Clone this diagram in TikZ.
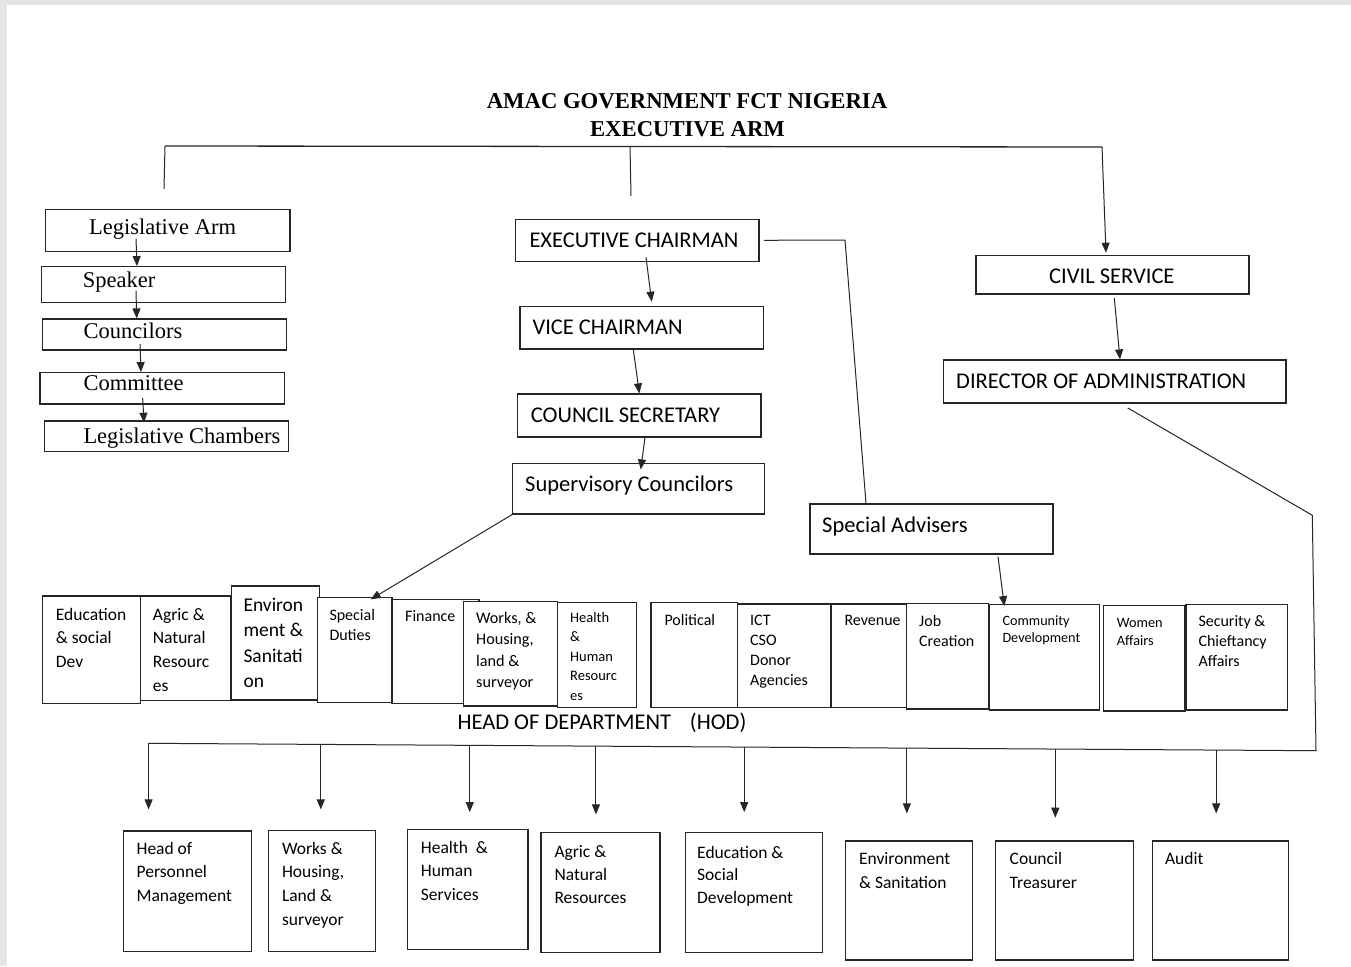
\documentclass[tikz,border=0pt]{standalone}
\usepackage{fontspec}
\setmainfont{Liberation Serif}
\newfontfamily\carl{Carlito}
\usetikzlibrary{arrows.meta,calc,fit}
\newcommand\fsz[2]{\fontsize{#1pt}{#2pt}\selectfont}
\newcommand\lbl[5]{\node[inner sep=0pt, anchor=base west] (#1) at (#2,#3) {\parbox[t]{400pt}{#4\raggedright #5}};}
\newcommand\bx[5]{\node[box, fit={(#2,#3) (#4,#5)}] (#1) {};}
\tikzset{
  box/.style={draw=black!85, line width=1.2pt, fill=white, inner sep=0pt},
  ln/.style={draw=black!85, line width=1pt},
  arr/.style={ln, -{Triangle[length=10pt,width=8pt]}}
}
\begin{document}
\begin{tikzpicture}[x=1pt,y=-1pt]
\useasboundingbox (0,0) rectangle (1351,966);
\fill[white] (0,0) rectangle (1351,966);
\fill[black!10] (0,0) rectangle (1351,5);
\fill[black!10] (0,0) rectangle (7,966);
% title
\node[inner sep=0pt, anchor=base, font=\bfseries\fsz{22.7}{27}] (t1) at (687,108.3) {AMAC GOVERNMENT FCT NIGERIA};
\node[inner sep=0pt, anchor=base, font=\bfseries\fsz{22.7}{27}] (t2) at (687.5,136.7) {EXECUTIVE ARM};
% legislative column
\bx{la}{45.7}{209.3}{290}{251.7}
\bx{sp}{41.7}{266.7}{285.7}{302.7}
\bx{co}{42.3}{319}{286.7}{350}
\bx{cm}{40}{372.7}{284.3}{404}
\bx{lc}{44.3}{421}{288.3}{451.7}
% executive column
\bx{ec}{515.7}{219.3}{759}{261.3}
\bx{vc}{520}{306.7}{763.3}{349}
\bx{cs}{517.7}{394}{761}{437}
\bx{sc}{512.7}{463.3}{764.3}{514}
\bx{sa}{810}{504}{1053}{554}
% civil service column
\bx{cv}{976}{255.3}{1249}{294}
\bx{da}{943.3}{360}{1286}{403}
% departments row
\bx{dEdu}{42.3}{596}{140.7}{703.3}
\bx{dAgr}{140.7}{596}{230.7}{700.7}
\bx{dEnv}{231.7}{586}{319.3}{700}
\bx{dSpd}{317.3}{597.3}{392}{702.3}
\bx{dFin}{392}{599.3}{479}{703.3}
\bx{dWrk}{463.3}{601.7}{557.3}{706}
\bx{dHlt}{557.7}{602.7}{636.7}{707.7}
\bx{dPol}{651}{602.7}{737.7}{707.7}
\bx{dIct}{737.7}{604}{831}{707.7}
\bx{dRev}{831}{604}{906.7}{707.7}
\bx{dJob}{906.7}{603.3}{988.7}{709}
\bx{dCom}{989.3}{604.7}{1099.3}{710}
\bx{dWom}{1103.3}{605.7}{1185}{711}
\bx{dSec}{1186}{604.7}{1287.3}{710}
% bottom boxes
\bx{b1}{123.7}{831}{251.2}{951.7}
\bx{b2}{268.8}{830.7}{375.5}{951.7}
\bx{b3}{407.3}{829.3}{527.9}{949.3}
\bx{b4}{540.9}{832.7}{659.9}{952.7}
\bx{b5}{685.1}{832.7}{822.5}{952.3}
\bx{b6}{845.6}{841}{972.3}{960}
\bx{b7}{995.8}{841}{1133.6}{960}
\bx{b8}{1152.8}{841}{1288.5}{960}
% top bracket
\coordinate (tl) at (165,146);
\coordinate (tm) at (630,146.5);
\coordinate (tr) at (1102,147);
\coordinate (tlb) at (164,189);
\coordinate (tmb) at (631,196);
\draw[ln, line width=1.3pt] (tl) -- (tr);
\draw[ln] (tl) -- (tlb);
\draw[ln] (tm) -- (tmb);
\draw[arr] (tr) -- ($(cv.north)+(-6.5,-2)$);
% legislative arrows
\draw[arr] ($(la.south)+(-31.85,-13.7)$) -- ($(sp.north)+(-26.7,0)$);
\draw[arr] ($(sp.south)+(-27.7,-12.7)$) -- ($(co.north)+(-27.8,0)$);
\draw[arr] ($(co.south)+(-24.5,-6.7)$) -- ($(cm.north)+(-21.15,0)$);
\draw[arr] ($(cm.south)+(-19.5,-6.7)$) -- ($(lc.north)+(-22.3,2.3)$);
% executive arrows
\draw[arr] ($(ec.south)+(8.65,-4.6)$) -- ($(vc.north)+(10.05,-4.4)$);
\draw[arr] ($(vc.south)+(-8.35,0)$) -- (cs.north);
\draw[arr] ($(cs.south)+(5.65,0)$) -- ($(sc.north)+(2.2,6.7)$);
\coordinate (ecsa) at (845,240);
\draw[ln] ($(ec.east)+(4.3,0)$) -- (ecsa) -- ($(sa.north)+(-65.5,0)$);
\draw[arr] (sc.south west) -- ($(dSpd.north)+(16,2.7)$);
\draw[arr] ($(sa.south)+(66.5,2)$) -- ($(dCom.north)+(-40,2)$);
% civil service
\draw[arr] ($(cv.south)+(1.8,3.3)$) -- ($(da.north)+(5.35,0)$);
\coordinate (r1) at (1312.3,515.3);
\coordinate (br) at (1316,750.7);
\coordinate (bl) at (148.6,743.3);
\draw[ln] ($(da.south)+(13,4.3)$) -- (r1) -- (br) -- (bl);
% bus arrows
\coordinate (p1) at (bl);
\coordinate (p2) at ($(bl)!0.1475!(br)$);
\coordinate (p3) at ($(bl)!0.2751!(br)$);
\coordinate (p4) at ($(bl)!0.3832!(br)$);
\coordinate (p5) at ($(bl)!0.5102!(br)$);
\coordinate (p6) at ($(bl)!0.6495!(br)$);
\coordinate (p7) at ($(bl)!0.7767!(br)$);
\coordinate (p8) at ($(bl)!0.9145!(br)$);
\draw[arr] (p1) -- ($(p1 |- b1.north)+(0,-21)$);
\draw[arr] (p2) -- ($(p2 |- b2.north)+(0,-20.7)$);
\draw[arr] (p3) -- ($(p3 |- b3.north)+(0,-16.6)$);
\draw[arr] (p4) -- ($(p4 |- b4.north)+(0,-17.7)$);
\draw[arr] (p5) -- ($(p5 |- b5.north)+(0,-20)$);
\draw[arr] (p6) -- ($(p6 |- b6.north)+(0,-27)$);
\draw[arr] (p7) -- ($(p7 |- b7.north)+(0,-22.7)$);
\draw[arr] (p8) -- ($(p8 |- b8.north)+(0,-27)$);
% texts legislative
\lbl{tla}{89}{234.3}{\fsz{22.5}{27}}{Legislative Arm}
\lbl{tsp}{82.7}{287}{\fsz{22.5}{27}}{Speaker}
\lbl{tco}{83.3}{338.3}{\fsz{22.5}{27}}{Councilors}
\lbl{tcm}{83.3}{390}{\fsz{22.5}{27}}{Committee}
\lbl{tlc}{83.3}{443.3}{\fsz{22.5}{27}}{Legislative Chambers}
% texts executive / civil
\lbl{tec}{529.3}{247.7}{\carl\fsz{22.5}{27}}{EXECUTIVE CHAIRMAN}
\lbl{tvc}{532.3}{334.7}{\carl\fsz{22.5}{27}}{VICE CHAIRMAN}
\lbl{tcs}{530.7}{422.3}{\carl\fsz{22.5}{27}}{COUNCIL SECRETARY}
\lbl{tsc}{525}{491.7}{\carl\fsz{22.5}{27}}{Supervisory Councilors}
\lbl{tsa}{822}{532}{\carl\fsz{22.5}{27}}{Special Advisers}
\lbl{tcv}{1049}{283.3}{\carl\fsz{22.5}{27}}{CIVIL SERVICE}
\lbl{tda}{956}{388}{\carl\fsz{22.5}{27}}{DIRECTOR OF ADMINISTRATION}
\node[inner sep=0pt, anchor=base west, font=\carl\fsz{22.5}{27}] (hod) at (457.3,729.3) {HEAD OF DEPARTMENT\hspace{19pt}(HOD)};
% department texts
\lbl{tdEdu}{55.7}{620}{\carl\fsz{17.5}{23.7}}{Education\\ \& social\\ Dev}
\lbl{tdAgr}{152.7}{620}{\carl\fsz{17.5}{23.7}}{Agric \&\\ Natural\\ Resourc\\ es}
\lbl{tdEnv}{243.3}{611}{\carl\fsz{19.5}{25.5}}{Environ\\ ment \&\\ Sanitati\\ on}
\lbl{tdSpd}{329.3}{620}{\carl\fsz{16}{20}}{Special\\ Duties}
\lbl{tdFin}{405}{621}{\carl\fsz{16}{20}}{Finance}
\lbl{tdWrk}{476}{623}{\carl\fsz{16.2}{21.5}}{Works, \&\\ Housing,\\ land \&\\ surveyor}
\lbl{tdHlt}{570}{622.5}{\carl\fsz{14.5}{19.4}}{Health\\ \&\\ Human\\ Resourc\\ es}
\lbl{tdPol}{664.3}{625}{\carl\fsz{16}{20}}{Political}
\lbl{tdIct}{750}{625}{\carl\fsz{16}{20}}{ICT\\ CSO\\ Donor\\ Agencies}
\lbl{tdRev}{844.3}{625}{\carl\fsz{16}{20}}{Revenue}
\lbl{tdJob}{919}{626.5}{\carl\fsz{16}{19.5}}{Job\\ Creation}
\lbl{tdCom}{1002.3}{625.5}{\carl\fsz{14.2}{17.4}}{Community\\ Development}
\lbl{tdWom}{1116.7}{627}{\carl\fsz{14.3}{18.4}}{Women\\ Affairs}
\lbl{tdSec}{1198.3}{626.5}{\carl\fsz{16}{20}}{Security \&\\ Chieftancy\\ Affairs}
% bottom texts
\lbl{tb1}{136.4}{854}{\carl\fsz{17.5}{23.8}}{Head of\\ Personnel\\ Management}
\lbl{tb2}{281.8}{854}{\carl\fsz{17.5}{23.8}}{Works \&\\ Housing,\\ Land \&\\ surveyor}
\lbl{tb3}{420.7}{853}{\carl\fsz{17.5}{23.8}}{Health\ \ \&\\ Human\\ Services}
\lbl{tb4}{554.3}{857}{\carl\fsz{17.5}{23}}{Agric \&\\ Natural\\ Resources}
\lbl{tb5}{697}{858}{\carl\fsz{17.5}{22.5}}{Education \&\\ Social\\ Development}
\lbl{tb6}{858.9}{864}{\carl\fsz{17.5}{24.3}}{Environment\\ \& Sanitation}
\lbl{tb7}{1009.5}{864}{\carl\fsz{17.5}{24.3}}{Council\\ Treasurer}
\lbl{tb8}{1164.8}{864.5}{\carl\fsz{17.5}{24.3}}{Audit}
\end{tikzpicture}
\end{document}
